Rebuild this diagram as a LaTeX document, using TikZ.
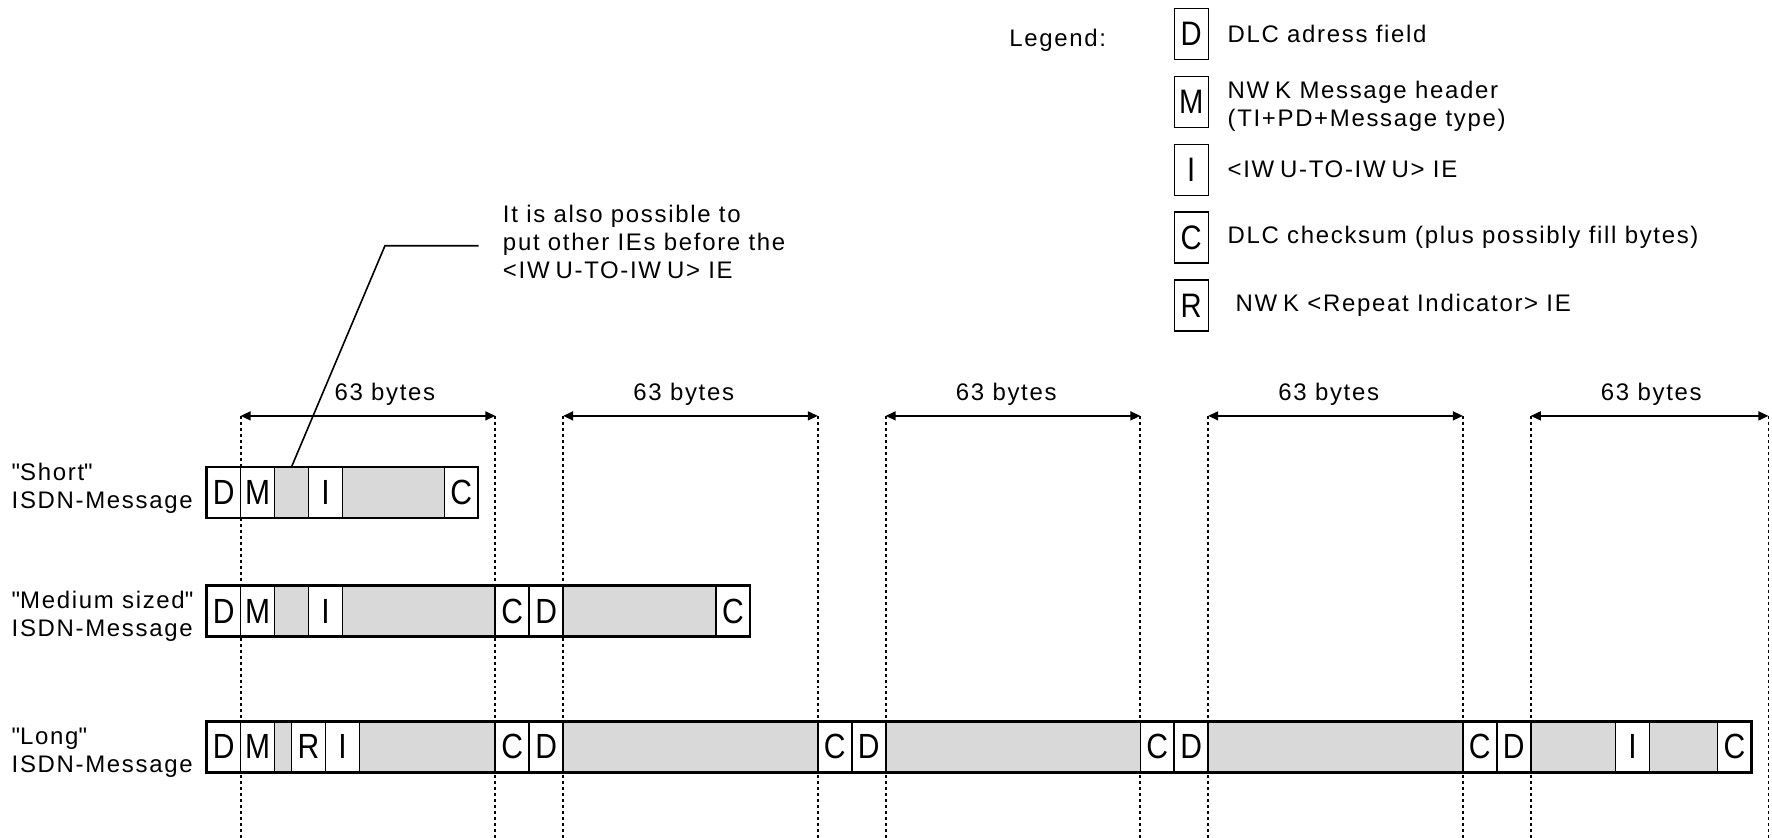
\documentclass[tikz,border=0pt]{standalone}
\usepackage{fontspec}
\setmainfont{Liberation Sans}[LetterSpace=7]
\newfontfamily\fieldfont{Liberation Sans}[FakeStretch=0.86]
\usepackage{tikz}
\usetikzlibrary{arrows.meta,positioning}
\definecolor{cellgray}{HTML}{D9D9D9}
\newcommand{\qt}[1]{\textquotedbl#1\textquotedbl}

\begin{document}
\begin{tikzpicture}[
    x=17pt, y=17pt,
    font=\fontsize{12}{14}\selectfont,
    cellbox/.style={draw, line width=0.8pt, fill=white, inner sep=0pt, outer sep=0pt,
        minimum height=25.5pt, anchor=north west, font=\fieldfont\fontsize{17.5}{17.5}\selectfont},
    fillbox/.style={cellbox, fill=cellgray},
    rowframe/.style={draw, line width=1.2pt},
    bytespan/.style={<->, line width=0.8pt, >={Triangle[length=5pt,width=4.5pt]}},
    framelimit/.style={line width=0.9pt, dash pattern=on 1.5pt off 1.5pt},
    leader/.style={line width=0.8pt},
    rowlabel/.style={align=left, anchor=base west, inner sep=0pt},
    note/.style={align=left, anchor=west, inner sep=0pt},
    legbox/.style={draw, line width=0.7pt, inner sep=0pt, outer sep=0pt, minimum width=17pt,
        minimum height=25.5pt, font=\fieldfont\fontsize{17}{17}\selectfont},
    legtext/.style={anchor=west, align=left, inner sep=0pt}
]
\useasboundingbox (-6.088,0) rectangle (46.106,-24.683);

% frame limits and 63 byte spans
\foreach \k in {0,...,4} {
  \pgfmathsetmacro\s{1+9.5*\k}
  \pgfmathsetmacro\e{min(8.5+9.5*\k,46)}
  \coordinate (a\k) at (\s,-12.25);
  \coordinate (b\k) at (\e,-12.25);
  \draw[framelimit] (a\k) -- (a\k |- 0,-24.7);
  \draw[framelimit] (b\k) -- (b\k |- 0,-24.7);
  \draw[bytespan] (a\k) -- (b\k);
}
\foreach \k/\c in {0/5.25,1/14.05,2/23.55,3/33.05,4/42.55}
  \node[anchor=base] (len\k) at (\c,-11.81) {63 bytes};

% "Short" message
\foreach \a/\w/\t/\st [count=\i] in {0/1/D/cellbox, 1/1/M/cellbox, 2/1//fillbox,
    3/1/I/cellbox, 4/3//fillbox, 7/1/C/cellbox}
  \node[\st, minimum width=\w*17pt] (s\i) at (\a,-13.75) {\t};
\draw[rowframe] (s1.north west) rectangle (s6.south east);

% "Medium sized" message
\foreach \a/\w/\t/\st [count=\i] in {0/1/D/cellbox, 1/1/M/cellbox, 2/1//fillbox,
    3/1/I/cellbox, 4/4.5//fillbox, 8.5/1/C/cellbox, 9.5/1/D/cellbox,
    10.5/4.5//fillbox, 15/1/C/cellbox}
  \node[\st, minimum width=\w*17pt] (m\i) at (\a,-17.25) {\t};
\draw[rowframe] (m1.north west) rectangle (m9.south east);

% "Long" message
\foreach \a/\w/\t/\st [count=\i] in {0/1/D/cellbox, 1/1/M/cellbox, 2/0.5//fillbox,
    2.5/1/R/cellbox, 3.5/1/I/cellbox, 4.5/4//fillbox, 8.5/1/C/cellbox,
    9.5/1/D/cellbox, 10.5/7.5//fillbox, 18/1/C/cellbox, 19/1/D/cellbox,
    20/7.5//fillbox, 27.5/1/C/cellbox, 28.5/1/D/cellbox, 29.5/7.5//fillbox,
    37/1/C/cellbox, 38/1/D/cellbox, 39/2.5//fillbox, 41.5/1/I/cellbox,
    42.5/2//fillbox, 44.5/1/C/cellbox}
  \node[\st, minimum width=\w*17pt] (l\i) at (\a,-21.25) {\t};
\draw[rowframe] (l1.north west) rectangle (l21.south east);

% row labels
\node[rowlabel] (shortlbl) at (-5.755,-14.98) {\qt{Short}\\ISDN-Message};
\node[rowlabel] (mediumlbl) at (-5.755,-18.75) {\qt{Medium sized}\\ISDN-Message};
\node[rowlabel] (longlbl) at (-5.755,-22.75) {\qt{Long}\\ISDN-Message};

% remark
\coordinate (bend) at (5.25,-7.24);
\coordinate (leadend) at (8.01,-7.24);
\draw[leader] (s3.north) -- (bend) -- (leadend);
\node[note, right=12pt of leadend, yshift=2pt] (remark)
  {It is also possible to\\put other IEs before the\\<IW\kern3pt U-TO-IW\kern3pt U> IE};

% legend
\node[anchor=base west, inner sep=0pt] (legend) at (23.63,-1.37) {Legend:};
\foreach \t/\y [count=\i] in {D/-1, M/-3, I/-5, C/-7, R/-9}
  \node[legbox] (key\i) at (29,\y) {\t};
\node[legtext, right=9.5pt of key1] (txt1) {DLC adress field};
\node[legtext, right=9.5pt of key2, yshift=-2pt] (txt2) {NW\kern3pt K Message header\\(TI+PD+Message type)};
\node[legtext, right=9.5pt of key3] (txt3) {<IW\kern3pt U-TO-IW\kern3pt U> IE};
\node[legtext, right=9.5pt of key4] (txt4) {DLC checksum (plus possibly fill bytes)};
\node[legtext, right=13.5pt of key5] (txt5) {NW\kern3pt K <Repeat Indicator> IE};
\end{tikzpicture}
\end{document}
